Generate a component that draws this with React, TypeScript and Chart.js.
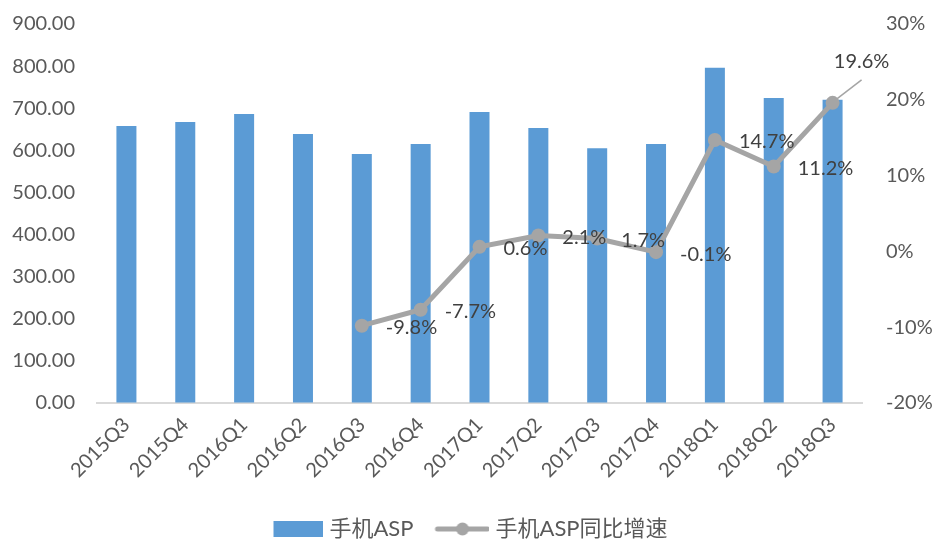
import React, { useEffect, useRef } from "react";
import { Chart, registerables } from "chart.js";

Chart.register(...registerables);

const categories = ["2015Q3","2015Q4","2016Q1","2016Q2","2016Q3","2016Q4","2017Q1","2017Q2","2017Q3","2017Q4","2018Q1","2018Q2","2018Q3"];
const aspValues = [658, 667, 686, 639, 591, 615, 691, 653, 605, 615, 796, 724, 720];
const yoyValues: (number | null)[] = [null, null, null, null, -9.8, -7.7, 0.6, 2.1, 1.7, -0.1, 14.7, 11.2, 19.6];
const seriesNames = ["手机ASP", "手机ASP同比增速"];

const BAR_COLOR = "#5B9BD5";
const LINE_COLOR = "#A5A5A5";
const FONT = "Lato, 'Noto Sans CJK SC', sans-serif";

function makeBarIcon() {
  const c = document.createElement("canvas");
  c.width = 60; c.height = 18;
  const g = c.getContext("2d")!;
  g.fillStyle = BAR_COLOR;
  g.fillRect(10, 1, 50, 16);
  return c;
}
function makeLineIcon() {
  const c = document.createElement("canvas");
  c.width = 60; c.height = 18;
  const g = c.getContext("2d")!;
  g.strokeStyle = LINE_COLOR;
  g.lineWidth = 5;
  g.lineCap = "round";
  g.beginPath(); g.moveTo(8, 9); g.lineTo(58, 9); g.stroke();
  g.fillStyle = LINE_COLOR;
  g.beginPath(); g.arc(33, 9, 6.5, 0, Math.PI * 2); g.fill();
  return c;
}

const labelPlugin = {
  id: "yoyLabels",
  afterDatasetsDraw(chart: any) {
    const meta = chart.getDatasetMeta(1);
    const ctx = chart.ctx;
    ctx.save();
    ctx.font = `20px ${FONT}`;
    ctx.fillStyle = "#404040";
    ctx.textBaseline = "middle";
    const last = yoyValues.length - 1;
    meta.data.forEach((pt: any, i: number) => {
      const v = yoyValues[i];
      if (v === null || v === undefined) return;
      const txt = v.toFixed(1) + "%";
      if (i === last) {
        ctx.strokeStyle = LINE_COLOR;
        ctx.lineWidth = 1.5;
        ctx.beginPath();
        ctx.moveTo(pt.x + 3, pt.y - 3);
        ctx.lineTo(pt.x + 29, pt.y - 23);
        ctx.stroke();
        ctx.textAlign = "center";
        ctx.fillText(txt, pt.x + 29, pt.y - 41);
      } else {
        ctx.textAlign = "left";
        ctx.fillText(txt, pt.x + 24, pt.y + 2);
      }
    });
    ctx.restore();
  },
};

export default function App() {
  const ref = useRef<HTMLCanvasElement>(null);
  useEffect(() => {
    document.body.style.margin = "0";
    const barIcon = makeBarIcon();
    const lineIcon = makeLineIcon();
    const chart = new Chart(ref.current!, {
      type: "bar",
      data: {
        labels: categories,
        datasets: [
          {
            type: "bar",
            label: seriesNames[0],
            data: aspValues,
            backgroundColor: BAR_COLOR,
            categoryPercentage: 1,
            barPercentage: 0.34,
            yAxisID: "y",
            order: 2,
          },
          {
            type: "line",
            label: seriesNames[1],
            data: yoyValues,
            borderColor: LINE_COLOR,
            backgroundColor: LINE_COLOR,
            borderWidth: 5,
            pointRadius: 7,
            pointBackgroundColor: LINE_COLOR,
            pointBorderWidth: 0,
            tension: 0,
            yAxisID: "y1",
            order: 1,
          } as any,
        ],
      },
      options: {
        animation: false,
        responsive: false,
        maintainAspectRatio: false,
        layout: { padding: { top: 24, left: 0, right: 0, bottom: -5 } },
        plugins: {
          tooltip: { enabled: false },
          legend: {
            position: "bottom",
            labels: {
              usePointStyle: true,
              pointStyleWidth: 50,
              boxHeight: 18,
              padding: 21,
              color: "#595959",
              font: { family: FONT, size: 22 },
              generateLabels: () => [
                { text: seriesNames[0], pointStyle: barIcon as any, fillStyle: BAR_COLOR, strokeStyle: BAR_COLOR, lineWidth: 0, hidden: false, datasetIndex: 0, fontColor: "#595959" },
                { text: seriesNames[1], pointStyle: lineIcon as any, fillStyle: LINE_COLOR, strokeStyle: LINE_COLOR, lineWidth: 0, hidden: false, datasetIndex: 1, fontColor: "#595959" },
              ],
            },
          },
        },
        scales: {
          x: {
            grid: { display: false },
            border: { display: true, color: "#D9D9D9", width: 2 },
            ticks: {
              color: "#595959",
              font: { family: FONT, size: 20 },
              minRotation: 45,
              maxRotation: 45,
              padding: 2,
            },
            afterFit: (s: any) => { s.height = 94; },
          },
          y: {
            position: "left",
            min: 0,
            max: 900,
            grid: { display: true, drawOnChartArea: false, drawTicks: true, tickLength: 20, tickColor: "rgba(0,0,0,0)" },
            border: { display: false },
            ticks: {
              stepSize: 100,
              color: "#595959",
              font: { family: FONT, size: 20 },
              padding: 2,
              callback: (v: any) => Number(v).toFixed(2),
            },
            afterFit: (s: any) => { s.width = 97; },
          },
          y1: {
            position: "right",
            min: -20,
            max: 30,
            grid: { display: true, drawOnChartArea: false, drawTicks: true, tickLength: 22, tickColor: "rgba(0,0,0,0)" },
            border: { display: false },
            ticks: {
              stepSize: 10,
              color: "#595959",
              font: { family: FONT, size: 20 },
              padding: 2,
              callback: (v: any) => `${v}%`,
            },
            afterFit: (s: any) => { s.width = 74; },
          },
        },
      },
      plugins: [labelPlugin],
    });
    return () => chart.destroy();
  }, []);
  return (
    <div style={{ width: 936, height: 545 }}>
      <canvas ref={ref} width={936} height={545} />
    </div>
  );
}
